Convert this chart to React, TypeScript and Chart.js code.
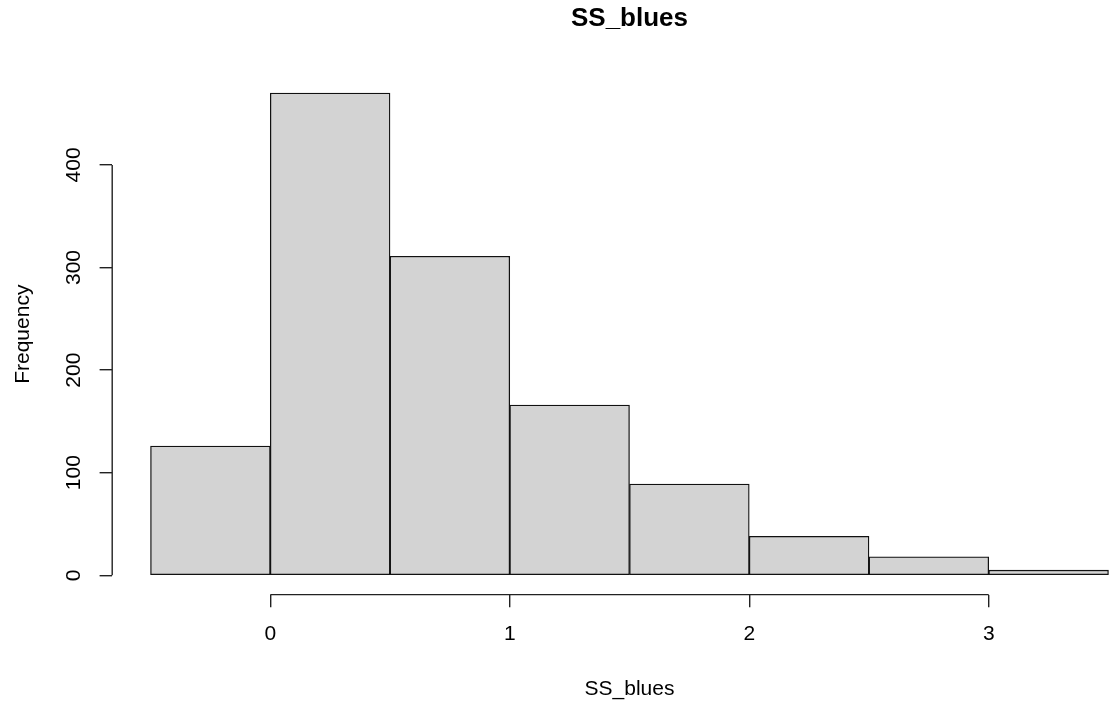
import React, { useEffect, useRef } from "react";
import { Chart, registerables } from "chart.js";

Chart.register(...registerables);

// Histogram data: bin edges and counts
const binEdges = [-0.5, 0, 0.5, 1, 1.5, 2, 2.5, 3, 3.5];
const counts = [126, 470, 311, 166, 89, 38, 18, 5];
const xTickValues = [0, 1, 2, 3];
const yTickValues = [0, 100, 200, 300, 400];
const chartTitle = "SS_blues";
const xAxisTitle = "SS_blues";
const yAxisTitle = "Frequency";

const FONT = '"Liberation Sans", Arial, sans-serif';

const rAxesPlugin = {
  id: "rAxes",
  afterDraw(chart: any) {
    const ctx = chart.ctx;
    const xs = chart.scales.x;
    const ys = chart.scales.y;
    ctx.save();
    ctx.strokeStyle = "#222";
    ctx.lineWidth = 1.4;
    ctx.beginPath();
    const x0 = xs.getPixelForValue(xTickValues[0]);
    const x1 = xs.getPixelForValue(xTickValues[xTickValues.length - 1]);
    ctx.moveTo(x0, xs.top);
    ctx.lineTo(x1, xs.top);
    const y0 = ys.getPixelForValue(yTickValues[0]);
    const y1 = ys.getPixelForValue(yTickValues[yTickValues.length - 1]);
    ctx.moveTo(ys.right, y0);
    ctx.lineTo(ys.right, y1);
    ctx.stroke();
    ctx.restore();
  },
};

export default function App() {
  const canvasRef = useRef<HTMLCanvasElement | null>(null);

  useEffect(() => {
    if (!canvasRef.current) return;
    const maxCount = Math.max(...counts);
    const xLo = binEdges[0];
    const xHi = binEdges[binEdges.length - 1];
    const xPad = (xHi - xLo) * 0.04;
    const points = counts.map((c, i) => ({
      x: (binEdges[i] + binEdges[i + 1]) / 2,
      y: c,
    }));
    const chart = new Chart(canvasRef.current, {
      type: "bar",
      data: {
        datasets: [
          {
            data: points as any,
            backgroundColor: "#D3D3D3",
            borderColor: "#111",
            borderWidth: 1.3,
            borderSkipped: false,
            barPercentage: 1,
            categoryPercentage: 1,
          },
        ],
      },
      plugins: [rAxesPlugin],
      options: {
        responsive: false,
        animation: false,
        events: [],
        layout: { padding: { left: 0, right: 13.2, top: 0, bottom: 0 } },
        plugins: {
          legend: { display: false },
          tooltip: { enabled: false },
          title: {
            display: true,
            text: chartTitle,
            fullSize: false,
            color: "#000",
            font: { family: FONT, size: 26, weight: "bold", lineHeight: 1.2 },
            padding: { top: 3, bottom: 39.6 },
          },
        },
        scales: {
          x: {
            type: "linear",
            min: xLo - xPad,
            max: xHi + xPad,
            offset: false,
            grid: {
              offset: false,
              drawOnChartArea: false,
              drawTicks: true,
              tickLength: 12.6,
              color: "#222",
              lineWidth: 1.4,
            },
            border: { display: false },
            afterBuildTicks: (scale: any) => {
              scale.ticks = xTickValues.map((v) => ({ value: v }));
            },
            afterFit: (scale: any) => {
              scale.height = 706 - 594.6;
            },
            ticks: {
              color: "#000",
              padding: 14,
              font: { family: FONT, size: 21, lineHeight: 1.2 },
              maxRotation: 0,
              minRotation: 0,
              callback: (v: any) => String(v),
            },
            title: {
              display: true,
              text: xAxisTitle,
              color: "#000",
              font: { family: FONT, size: 21, lineHeight: 1.2 },
              padding: { top: 0, bottom: 4.4 },
            },
          },
          y: {
            type: "linear",
            min: -0.04 * maxCount,
            max: 1.04 * maxCount,
            grid: {
              drawOnChartArea: false,
              drawTicks: true,
              tickLength: 12.6,
              color: "#222",
              lineWidth: 1.4,
            },
            border: { display: false },
            afterBuildTicks: (scale: any) => {
              scale.ticks = yTickValues.map((v) => ({ value: v }));
            },
            afterFit: (scale: any) => {
              scale.width = 112.2;
            },
            ticks: {
              color: "#000",
              padding: 8,
              crossAlign: "center",
              minRotation: 90,
              maxRotation: 90,
              font: { family: FONT, size: 21, lineHeight: 1.2 },
              callback: (v: any) => String(v),
            },
            title: {
              display: true,
              text: yAxisTitle,
              color: "#000",
              font: { family: FONT, size: 21, lineHeight: 1.2 },
              padding: { top: 10.4, bottom: 0 },
            },
          },
        },
      } as any,
    });
    return () => chart.destroy();
  }, []);

  return (
    <div
      style={{
        position: "fixed",
        left: 0,
        top: 0,
        width: 1116,
        height: 706,
        overflow: "hidden",
        background: "#fff",
      }}
    >
      <canvas ref={canvasRef} width={1160} height={706} />
    </div>
  );
}
